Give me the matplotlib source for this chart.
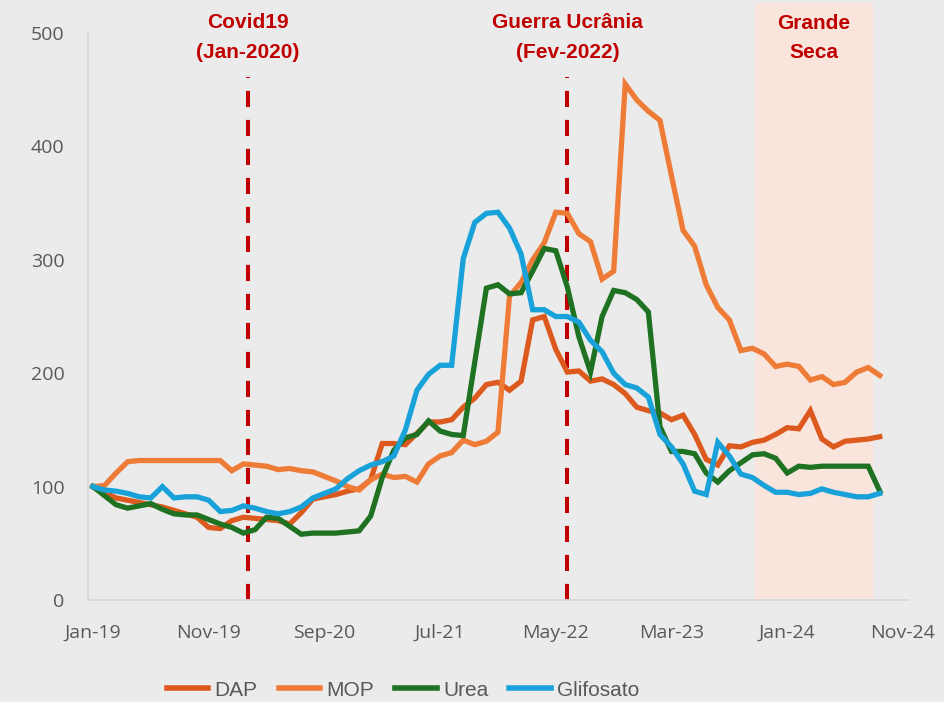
import numpy as np
import pandas as pd
import matplotlib
matplotlib.use("Agg")
import matplotlib.pyplot as plt
from matplotlib import font_manager

# fontes disponiveis
nomes = {f.name for f in font_manager.fontManager.ttflist}
narrow = "Liberation Sans Narrow" if "Liberation Sans Narrow" in nomes else "Liberation Sans"

# dados mensais (indice 100 = Jan-19), Jan-19 ate Set-24
dap = [100, 95, 90, 88, 86, 84, 82, 79, 76, 73, 64, 63, 70, 73, 72, 71, 70, 67,
       77, 89, 91, 93, 96, 98, 106, 138, 138, 137, 147, 157, 157, 159, 170, 178,
       190, 192, 185, 193, 247, 250, 221, 201, 202, 193, 195, 190, 182, 170, 167,
       165, 159, 163, 146, 124, 119, 136, 135, 139, 141, 146, 152, 151, 167, 142,
       135, 140, 141, 142, 144]
mop = [100, 101, 112, 122, 123, 123, 123, 123, 123, 123, 123, 123, 114, 120,
       119, 118, 115, 116, 114, 113, 109, 105, 100, 97, 106, 111, 108, 109, 104,
       120, 127, 130, 141, 137, 140, 148, 268, 280, 300, 315, 342, 341, 323, 316,
       283, 290, 455, 441, 431, 423, 374, 326, 312, 278, 258, 247, 220, 222, 217,
       206, 208, 206, 194, 197, 190, 192, 201, 205, 198]
urea = [100, 92, 84, 81, 83, 85, 80, 76, 75, 75, 71, 67, 64, 59, 62, 73, 72, 65,
        58, 59, 59, 59, 60, 61, 74, 108, 132, 143, 146, 158, 149, 146, 145, 210,
        275, 278, 270, 271, 290, 310, 308, 276, 232, 201, 250, 273, 271, 265, 254,
        153, 131, 131, 129, 112, 104, 114, 121, 128, 129, 125, 112, 118, 117, 118,
        118, 118, 118, 118, 96]
glifosato = [100, 97, 96, 94, 91, 90, 100, 90, 91, 91, 88, 78, 79, 83, 81, 78, 76,
             78, 82, 90, 94, 98, 107, 114, 119, 122, 127, 150, 185, 199, 207, 207,
             301, 333, 341, 342, 328, 305, 256, 256, 250, 250, 245, 229, 219, 200,
             190, 187, 179, 146, 135, 120, 96, 93, 139, 127, 111, 108, 101, 95, 95,
             93, 94, 98, 95, 93, 91, 91, 94]

meses = pd.date_range("2019-01-01", periods=len(dap), freq="MS")
tick_pos = list(range(0, 71, 10))
tick_lab = ["Jan-19", "Nov-19", "Sep-20", "Jul-21", "May-22", "Mar-23", "Jan-24", "Nov-24"]

series = [("DAP", dap, "#DD5A1E"), ("MOP", mop, "#EE7B36"),
          ("Urea", urea, "#1E7222"), ("Glifosato", glifosato, "#18A2D9")]

eventos = [(13.4, "Covid19", "(Jan-2020)"), (41.0, "Guerra Ucrânia", "(Fev-2022)")]
seca = (57.2, 67.4)

fundo = "#EBEBEB"
fig = plt.figure(figsize=(9.44, 7.02), dpi=100, facecolor=fundo)
ax = fig.add_axes([88 / 944, 102 / 702, 820.7 / 944, 597 / 702])
ax.set_facecolor(fundo)

x = np.arange(len(meses))
ax.axvspan(seca[0], seca[1], color="#FAE5DD", zorder=0, lw=0)

for nome, vals, cor in series:
    ax.plot(x, vals, color=cor, lw=3.8, label=nome, solid_joinstyle="miter", zorder=3)

vermelho = "#C00000"
fonte_ev = dict(ha="center", va="center", color=vermelho, fontsize=15,
                fontweight="bold", family=[narrow, "DejaVu Sans"])
for xe, t1, t2 in eventos:
    ax.vlines(xe, 0, 461, colors=vermelho, lw=2.9, linestyles=(0, (4, 3.2)), zorder=2)
    ax.text(xe, 509.5, t1, **fonte_ev)
    ax.text(xe, 483, t2, **fonte_ev)
xs = (seca[0] + seca[1]) / 2
ax.text(xs, 508, "Grande", **fonte_ev)
ax.text(xs, 483, "Seca", **fonte_ev)

ax.set_xlim(-0.43, 70.5)
ax.set_ylim(0, 526.5)
ax.set_yticks(range(0, 501, 100))
ax.set_xticks(tick_pos)
ax.set_xticklabels(tick_lab)
ax.tick_params(axis="both", length=0, labelsize=14, labelcolor="#595959")
ax.tick_params(axis="y", pad=17)
ax.tick_params(axis="x", pad=17)
for lab in ax.get_xticklabels() + ax.get_yticklabels():
    lab.set_family("Open Sans")

for s in ["top", "right"]:
    ax.spines[s].set_visible(False)
ax.spines["left"].set_color("#D9D9D9")
ax.spines["left"].set_bounds(0, 500)
ax.spines["bottom"].set_color("#D9D9D9")
ax.spines["left"].set_linewidth(1.3)
ax.spines["bottom"].set_linewidth(1.3)

leg = fig.legend(loc="center", bbox_to_anchor=(403 / 944, 12 / 702), ncol=4,
                 frameon=False, handlelength=2.0, handletextpad=0.3,
                 columnspacing=1.0, prop={"family": narrow, "size": 15})
for t in leg.get_texts():
    t.set_color("#595959")
for h in leg.legend_handles:
    h.set_linewidth(4)

fig.savefig("out.png", dpi=100, facecolor=fundo)
